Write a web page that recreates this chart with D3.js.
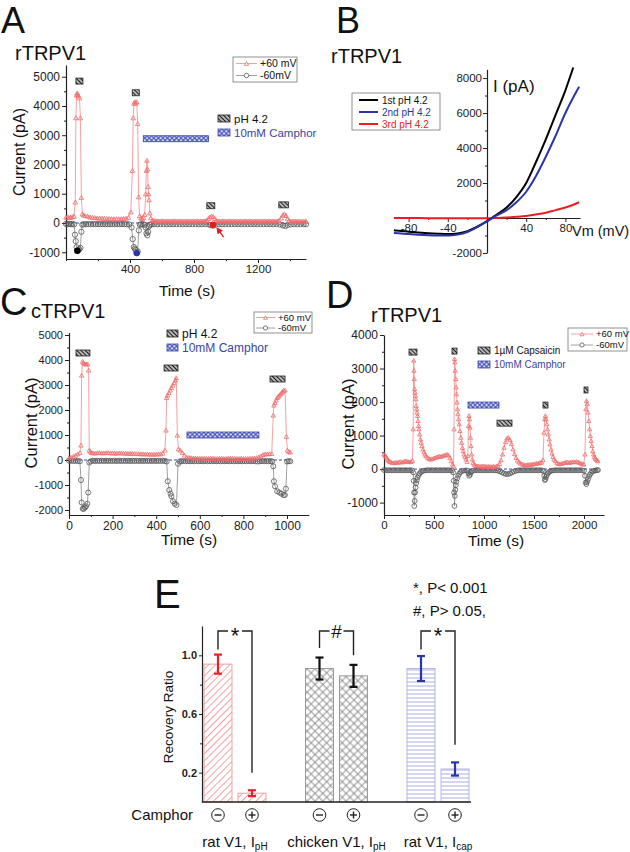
<!DOCTYPE html>
<html><head><meta charset="utf-8">
<script src="https://cdn.jsdelivr.net/npm/d3@7"></script>
<style>body{margin:0;background:#fff}svg{display:block}</style>
</head><body>
<svg id="fig" width="630" height="852"></svg>
<script>
const FONT='"Liberation Sans", Arial, Helvetica, sans-serif';

// ---------------- Panel A data (time s, current pA) ----------------
const aPos=[[0,200],[10,215],[20,190],[30,205],[40,220],[50,240],[58,720],[62,3600],[66,4380],[70,4450],[74,4400],[78,4350],[84,4280],[90,3600],[96,880],[102,320],[110,280],[120,260],[135,240],[150,210],[165,200],[180,190],[195,180],[210,175],[225,170],[240,165],[255,160],[270,160],[285,155],[300,150],[315,150],[330,150],[345,155],[360,160],[375,170],[390,200],[405,380],[415,1800],[420,3600],[425,4100],[430,4150],[436,4100],[442,4150],[448,3400],[454,900],[460,250],[468,180],[476,160],[484,200],[492,300],[498,1000],[502,1800],[506,2150],[510,1850],[513,1250],[516,1000],[519,800],[524,350],[530,180],[540,100],[550,90],[560,80],[570,80],[580,75],[590,70],[600,80],[610,75],[620,70],[630,75],[640,75],[650,70],[660,70],[670,75],[680,80],[690,70],[700,70],[710,75],[720,75],[730,70],[740,70],[750,75],[760,75],[770,70],[780,70],[790,75],[800,70],[810,70],[820,75],[830,70],[840,70],[850,75],[860,75],[870,80],[880,90],[890,160],[900,210],[910,240],[920,220],[930,160],[940,90],[950,75],[960,70],[970,70],[980,75],[990,75],[1000,70],[1010,70],[1020,75],[1030,75],[1040,70],[1050,70],[1060,75],[1070,70],[1080,70],[1090,75],[1100,70],[1110,70],[1120,75],[1130,70],[1140,70],[1150,75],[1160,70],[1170,70],[1180,75],[1190,70],[1200,70],[1210,75],[1220,70],[1230,70],[1240,75],[1250,70],[1260,70],[1270,75],[1280,70],[1290,70],[1300,75],[1310,70],[1320,75],[1330,90],[1345,180],[1355,280],[1365,320],[1375,260],[1385,150],[1395,90],[1405,70],[1415,70],[1425,65],[1435,70],[1445,65],[1455,70],[1465,60],[1475,65],[1485,60],[1495,60],[1500,60]];
const aNeg=[[0,-30],[10,-40],[20,-30],[30,-40],[40,-30],[50,-50],[56,-400],[61,-620],[66,-830],[71,-950],[77,-930],[83,-900],[90,-850],[96,-300],[102,-60],[110,-40],[125,-40],[140,-35],[155,-40],[170,-35],[185,-40],[200,-35],[215,-40],[230,-35],[245,-40],[260,-35],[275,-40],[290,-35],[305,-40],[320,-35],[335,-40],[350,-35],[365,-40],[380,-40],[395,-50],[410,-150],[417,-550],[424,-820],[430,-880],[436,-920],[442,-1030],[448,-980],[455,-250],[462,-60],[470,-40],[480,-40],[490,-60],[498,-150],[503,-350],[508,-420],[513,-300],[518,-120],[525,-60],[535,-45],[550,-40],[570,-40],[590,-40],[610,-40],[630,-40],[650,-40],[670,-40],[690,-40],[710,-40],[730,-40],[750,-40],[770,-40],[790,-40],[810,-40],[830,-40],[850,-40],[870,-40],[890,-50],[905,-70],[918,-90],[935,-60],[955,-40],[975,-40],[995,-40],[1015,-40],[1035,-40],[1055,-40],[1075,-40],[1095,-40],[1115,-40],[1135,-40],[1155,-40],[1175,-40],[1195,-40],[1215,-40],[1235,-40],[1255,-40],[1275,-40],[1295,-40],[1315,-40],[1335,-50],[1355,-80],[1370,-100],[1385,-70],[1405,-45],[1425,-40],[1445,-40],[1465,-40],[1485,-40],[1500,-40]];
const aMarked=[[71,-950],[442,-1030],[918,-60]];
const aMarkedColors=['#000','#2a35a8','#e5191e'];
const aPh=[[62,106,4850],[414,458,4450],[880,930,590],[1330,1390,620]];
const aCam=[[483,890,2880]];
const aYTicks=[-1000,0,1000,2000,3000,4000,5000];
const aYMinor=[-500,500,1500,2500,3500,4500];
const aXTicks=[400,800,1200];
const aXMinor=[0,200,600,1000,1400];

// ---------------- Panel B data (Vm mV, I pA) ----------------
const b1st=[[-95,-700],[-90,-730],[-80,-780],[-70,-830],[-60,-870],[-50,-900],[-40,-920],[-30,-880],[-20,-750],[-10,-500],[0,-180],[5,0],[10,200],[20,600],[30,1200],[40,2000],[50,3200],[60,4500],[70,5900],[80,7300],[88,8600]];
const b2nd=[[-95,-850],[-90,-870],[-80,-920],[-70,-960],[-60,-990],[-50,-1000],[-40,-1000],[-30,-950],[-20,-800],[-10,-520],[0,-200],[5,-20],[10,150],[20,450],[30,900],[40,1500],[50,2400],[60,3500],[70,4700],[80,6000],[90,7100],[94,7500]];
const b3rd=[[-95,0],[-80,0],[-60,-10],[-40,-10],[-20,-20],[0,-20],[10,0],[20,30],[30,70],[40,120],[50,200],[60,300],[70,450],[80,600],[90,800],[94,900]];
const bNames=['1st pH 4.2','2nd pH 4.2','3rd pH 4.2'];
const bColors=['#000','#2a35a8','#f01b22'];
const bYTicks=[-2000,2000,4000,6000,8000];
const bYMinor=[-1000,1000,3000,5000,7000];
const bXTicks=[-80,-40,40,80];
const bXMinor=[-60,-20,20,60];

// ---------------- Panel C data ----------------
const cPos=[[0,100],[10,120],[20,150],[30,200],[40,250],[50,300],[55,600],[58,3400],[62,3950],[67,3900],[73,3850],[79,3850],[85,3850],[90,3600],[93,400],[98,350],[104,300],[110,290],[120,280],[130,300],[140,300],[150,290],[160,290],[170,300],[180,300],[190,290],[200,290],[210,280],[220,280],[230,290],[240,290],[250,280],[260,280],[270,270],[280,270],[290,270],[300,270],[310,260],[320,260],[330,250],[340,250],[350,250],[360,250],[370,240],[380,240],[390,240],[400,240],[410,250],[420,250],[430,280],[440,400],[445,1200],[448,2500],[452,2600],[458,2700],[464,2800],[470,2900],[476,3000],[482,3100],[488,3200],[492,3300],[497,1000],[502,450],[510,400],[520,300],[530,200],[540,120],[550,110],[560,100],[570,90],[580,90],[590,80],[600,80],[610,80],[620,80],[630,70],[640,70],[650,80],[660,80],[670,70],[680,70],[690,80],[700,80],[710,70],[720,70],[730,80],[740,80],[750,70],[760,70],[770,70],[780,70],[790,80],[800,70],[810,70],[820,70],[830,80],[840,80],[850,90],[860,100],[870,130],[880,170],[890,220],[900,250],[910,250],[920,260],[930,260],[937,1800],[940,2200],[945,2300],[950,2400],[955,2500],[960,2550],[965,2600],[970,2650],[975,2700],[980,2750],[985,2800],[991,2800],[997,950],[1002,400],[1008,350],[1015,320]];
const cNeg=[[0,-30],[10,-30],[20,-40],[30,-30],[40,-40],[50,-50],[55,-800],[58,-1700],[63,-1950],[68,-1950],[73,-1900],[78,-1850],[84,-1750],[88,-1300],[93,-100],[100,-50],[110,-30],[120,-40],[130,-30],[140,-40],[150,-30],[160,-40],[170,-30],[180,-40],[190,-30],[200,-40],[210,-30],[220,-40],[230,-30],[240,-40],[250,-30],[260,-40],[270,-30],[280,-40],[290,-30],[300,-40],[310,-30],[320,-40],[330,-30],[340,-40],[350,-30],[360,-40],[370,-30],[380,-40],[390,-30],[400,-40],[410,-30],[420,-40],[430,-30],[440,-40],[448,-60],[453,-850],[460,-1200],[466,-1350],[470,-1450],[477,-1650],[485,-1750],[493,-1800],[500,-150],[508,-60],[515,-50],[525,-40],[535,-50],[545,-40],[555,-50],[565,-40],[575,-50],[585,-40],[595,-50],[605,-40],[615,-50],[625,-40],[635,-50],[645,-40],[655,-50],[665,-40],[675,-50],[685,-40],[695,-50],[705,-40],[715,-50],[725,-40],[735,-50],[745,-40],[755,-50],[765,-40],[775,-50],[785,-40],[795,-50],[805,-40],[815,-50],[825,-40],[835,-50],[845,-40],[855,-50],[865,-60],[875,-50],[885,-40],[895,-50],[905,-40],[915,-50],[925,-40],[932,-60],[937,-250],[940,-850],[945,-1050],[955,-1250],[965,-1300],[975,-1350],[985,-1400],[990,-1400],[995,-1150],[1000,-60],[1008,-50],[1015,-50]];
const cPh=[[32,96,4280],[436,500,3680],[922,991,3240]];
const cCam=[[541,871,1000]];
const cYTicks=[-2000,-1000,0,1000,2000,3000,4000,5000];
const cYMinor=[-1500,-500,500,1500,2500,3500,4500];
const cXTicks=[0,200,400,600,800,1000];
const cXMinor=[100,300,500,700,900];

// ---------------- Panel D data ----------------
const dPos=[[0,450],[10,420],[20,380],[30,330],[40,280],[50,250],[60,230],[75,210],[90,190],[105,200],[120,210],[135,200],[150,220],[165,230],[180,210],[195,230],[210,250],[225,240],[240,230],[255,220],[270,230],[285,260],[292,1200],[297,3250],[300,2950],[303,2700],[306,2400],[310,2300],[314,2200],[318,2100],[322,1900],[326,1800],[330,1700],[335,1600],[340,1450],[345,1300],[350,1200],[357,1050],[365,900],[372,800],[380,700],[390,600],[400,520],[410,450],[420,400],[435,350],[450,320],[465,300],[480,310],[495,330],[510,350],[525,360],[540,380],[555,400],[570,380],[585,400],[600,420],[615,430],[630,450],[645,420],[660,350],[672,250],[685,150],[695,100],[700,1200],[705,3300],[709,3200],[713,2950],[717,2700],[721,2450],[725,2250],[730,2000],[735,1800],[740,1650],[746,1500],[752,1350],[760,1150],[768,950],[776,800],[784,650],[792,550],[800,450],[810,380],[820,300],[830,230],[838,400],[845,1300],[850,1600],[855,1500],[860,1250],[865,950],[870,700],[876,450],[884,300],[892,200],[900,150],[915,120],[930,100],[945,100],[960,90],[975,90],[990,100],[1005,90],[1020,90],[1035,80],[1050,90],[1065,80],[1080,80],[1095,90],[1110,80],[1125,90],[1140,110],[1155,170],[1170,280],[1185,450],[1200,650],[1215,820],[1230,930],[1245,950],[1260,880],[1275,760],[1290,600],[1305,460],[1320,350],[1335,270],[1350,220],[1365,180],[1380,160],[1395,140],[1410,130],[1425,130],[1440,140],[1455,140],[1470,150],[1485,150],[1500,160],[1515,170],[1530,180],[1545,180],[1560,200],[1575,210],[1590,280],[1600,1100],[1607,1500],[1614,1600],[1621,1500],[1628,1350],[1636,1200],[1644,1050],[1652,900],[1660,750],[1670,600],[1680,480],[1690,380],[1700,300],[1715,250],[1730,200],[1745,170],[1760,160],[1775,170],[1790,190],[1805,200],[1820,210],[1835,220],[1850,200],[1865,210],[1880,220],[1895,230],[1910,220],[1925,230],[1940,220],[1955,200],[1970,180],[1985,160],[1998,150],[2010,450],[2018,1800],[2025,2050],[2032,1950],[2040,1700],[2048,1450],[2056,1200],[2064,1000],[2072,850],[2080,700],[2088,550],[2096,450],[2104,380],[2112,330],[2120,300],[2130,270],[2140,250]];
const dNeg=[[0,-30],[20,-30],[40,-40],[60,-30],[80,-40],[100,-30],[120,-40],[140,-30],[160,-40],[180,-30],[200,-40],[220,-30],[240,-40],[260,-30],[280,-40],[292,-100],[296,-350],[300,-700],[303,-1100],[307,-950],[311,-700],[316,-550],[322,-420],[328,-330],[335,-250],[345,-180],[355,-130],[370,-90],[385,-60],[400,-45],[420,-40],[440,-30],[460,-40],[480,-30],[500,-40],[520,-30],[540,-40],[560,-30],[580,-40],[600,-30],[620,-40],[640,-30],[660,-40],[680,-40],[692,-100],[697,-350],[701,-700],[705,-1100],[709,-800],[713,-620],[718,-480],[724,-380],[732,-280],[742,-200],[752,-140],[765,-90],[780,-60],[800,-45],[820,-40],[835,-50],[845,-120],[852,-200],[860,-170],[868,-100],[880,-60],[900,-40],[920,-30],[940,-40],[960,-30],[980,-40],[1000,-30],[1020,-40],[1040,-30],[1060,-40],[1080,-30],[1100,-40],[1120,-40],[1140,-50],[1160,-70],[1180,-100],[1200,-130],[1220,-150],[1240,-150],[1260,-130],[1280,-100],[1300,-70],[1320,-50],[1340,-40],[1360,-30],[1380,-40],[1400,-30],[1420,-40],[1440,-30],[1460,-40],[1480,-30],[1500,-40],[1520,-30],[1540,-40],[1560,-30],[1580,-40],[1595,-60],[1602,-200],[1608,-330],[1614,-300],[1620,-240],[1628,-180],[1638,-130],[1650,-90],[1665,-60],[1680,-45],[1700,-40],[1720,-30],[1740,-40],[1760,-30],[1780,-40],[1800,-30],[1820,-40],[1840,-30],[1860,-40],[1880,-30],[1900,-40],[1920,-30],[1940,-40],[1960,-30],[1980,-40],[2000,-50],[2010,-200],[2017,-400],[2024,-450],[2031,-380],[2040,-300],[2050,-220],[2060,-160],[2072,-110],[2085,-70],[2100,-50],[2115,-40],[2130,-35],[2140,-30]];
const dCap=[[250,330,3490],[680,730,3520],[1130,1280,1370],[1590,1640,1910],[2000,2040,2360]];
const dCam=[[840,1150,1910]];
const dYTicks=[-1000,0,1000,2000,3000,4000];
const dYMinor=[-500,500,1500,2500,3500];
const dXTicks=[0,500,1000,1500,2000];
const dXMinor=[250,750,1250,1750];

// ---------------- Panel E data ----------------
const eGroupNames=['rat V1, I','chicken V1, I','rat V1, I'];
const eGroupSubs=['pH','pH','cap'];
const eCond=['-','+'];
const eMeans=[[0.94,0.06],[0.91,0.86],[0.91,0.225]];
const eErrs=[[0.065,0.02],[0.075,0.075],[0.085,0.045]];
const eSig=['*','#','*'];
const eBracketLevel=[1.166,1.166,1.166];
const eBracketLeftEnd=[1.04,1.05,1.04];
const eBracketRightEnd=[0.2,1.0,0.39];
const eYTicks=[0.2,0.6,1.0];
const eYMinor=[0.4,0.8];

// ================= drawing =================
const svg=d3.select('#fig').attr('font-family',FONT);
const defs=svg.append('defs');
function pattern(id,size,angle,bg,color,width,dirs){
  const p=defs.append('pattern').attr('id',id).attr('patternUnits','userSpaceOnUse')
    .attr('width',size).attr('height',size).attr('patternTransform',`rotate(${angle})`);
  p.append('rect').attr('width',size).attr('height',size).attr('fill',bg);
  if(dirs.includes('v')) p.append('line').attr('x1',size/2).attr('x2',size/2).attr('y1',0).attr('y2',size).attr('stroke',color).attr('stroke-width',width);
  if(dirs.includes('h')) p.append('line').attr('y1',size/2).attr('y2',size/2).attr('x1',0).attr('x2',size).attr('stroke',color).attr('stroke-width',width);
}
pattern('phPat',3,-45,'#d4d4d4','#1a1a1a',1.3,'v');
pattern('camPat',3.2,45,'#e0e0f4','#3545b0',1,'vh');
pattern('eRed',5,45,'#fff','#f29a9a',0.9,'v');
pattern('eCross',5.5,45,'#fff','#7c7c7c',0.8,'vh');
pattern('eBlue',4,0,'#fff','#a9addf',1,'h');

function txt(x,y,s,fs,o={}){
  const t=svg.append('text').attr('x',x).attr('y',y).attr('font-size',fs).attr('fill',o.fill||'#111').text(s);
  if(o.anchor) t.attr('text-anchor',o.anchor);
  if(o.weight) t.attr('font-weight',o.weight);
  return t;
}
function vtxt(x,y,s,fs){
  return svg.append('text').attr('transform',`translate(${x},${y}) rotate(-90)`).attr('text-anchor','middle').attr('font-size',fs).attr('fill','#111').text(s);
}
const fmt=d=>String(d);
function styleAxis(g,fs){
  g.attr('font-family',FONT);
  g.select('.domain').attr('stroke','#222').attr('stroke-width',1.2);
  g.selectAll('.tick line').attr('stroke','#222').attr('stroke-width',1);
  g.selectAll('.tick text').attr('font-size',fs).attr('fill','#222');
}
function axesBox(x,y,o){
  const x0=x.range()[0], y0=y.range()[0];
  const gy=svg.append('g').attr('transform',`translate(${x0},0)`)
    .call(d3.axisLeft(y).tickValues(o.yt).tickSize(4).tickSizeOuter(0).tickPadding(2).tickFormat(fmt));
  styleAxis(gy,o.yfs);
  svg.append('g').attr('transform',`translate(${x0},0)`)
    .call(d3.axisLeft(y).tickValues(o.ym).tickSize(2).tickFormat(''))
    .call(g=>{g.select('.domain').remove();g.selectAll('line').attr('stroke','#222');});
  const gx=svg.append('g').attr('transform',`translate(0,${y0})`)
    .call(d3.axisBottom(x).tickValues(o.xt).tickSize(4).tickSizeOuter(0).tickPadding(2).tickFormat(fmt));
  styleAxis(gx,o.xfs);
  svg.append('g').attr('transform',`translate(0,${y0})`)
    .call(d3.axisBottom(x).tickValues(o.xm).tickSize(2).tickFormat(''))
    .call(g=>{g.select('.domain').remove();g.selectAll('line').attr('stroke','#222');});
}
const RED='#ef6b6b', GRAY='#555';
function traces(x,y,pos,neg,triSize,circSize){
  const ln=d3.line().x(d=>x(d[0])).y(d=>y(d[1]));
  svg.append('line').attr('x1',x.range()[0]).attr('x2',x(d3.max(pos,d=>d[0])))
    .attr('y1',y(0)).attr('y2',y(0)).attr('stroke','#3344cc').attr('stroke-width',1).attr('stroke-dasharray','3,2');
  svg.append('path').datum(neg).attr('d',ln).attr('fill','none').attr('stroke','#888').attr('stroke-width',0.8);
  svg.append('g').selectAll('path').data(neg).join('path')
    .attr('transform',d=>`translate(${x(d[0])},${y(d[1])})`)
    .attr('d',d3.symbol(d3.symbolCircle,circSize)()).attr('fill','none').attr('stroke',GRAY).attr('stroke-width',0.8);
  svg.append('path').datum(pos).attr('d',ln).attr('fill','none').attr('stroke','#f28a8a').attr('stroke-width',0.8);
  svg.append('g').selectAll('path').data(pos).join('path')
    .attr('transform',d=>`translate(${x(d[0])},${y(d[1])+0.8})`)
    .attr('d',d3.symbol(d3.symbolTriangle2,triSize)()).attr('fill','none').attr('stroke',RED).attr('stroke-width',0.8);
}
function bars(x,y,list,fill,stroke,h){
  svg.append('g').selectAll('rect').data(list).join('rect')
    .attr('x',d=>x(d[0])).attr('width',d=>x(d[1])-x(d[0]))
    .attr('y',d=>y(d[2])-h/2).attr('height',h)
    .attr('fill',fill).attr('stroke',stroke).attr('stroke-width',0.8);
}
function traceLegend(bx,by,bw,bh,rows,lx0,lx1,tx,fs,triSize,circSize){
  svg.append('rect').attr('x',bx).attr('y',by).attr('width',bw).attr('height',bh).attr('fill','#fff').attr('stroke','#777').attr('stroke-width',0.8);
  const items=[{t:'+60 mV',c:RED,s:d3.symbolTriangle2,z:triSize},{t:'-60mV',c:GRAY,s:d3.symbolCircle,z:circSize}];
  items.forEach((it,i)=>{
    const yy=rows[i];
    svg.append('line').attr('x1',lx0).attr('x2',lx1).attr('y1',yy).attr('y2',yy).attr('stroke',i?'#888':'#f28a8a').attr('stroke-width',0.8);
    svg.append('path').attr('transform',`translate(${(lx0+lx1)/2},${yy+(i?0:0.6)})`).attr('d',d3.symbol(it.s,it.z)()).attr('fill','#fff').attr('stroke',it.c).attr('stroke-width',0.8);
    txt(tx,yy+fs*0.36,it.t,fs,{fill:'#111'});
  });
}
function treatLegend(x,y1,y2,w,h,label1,fs){
  svg.append('rect').attr('x',x).attr('y',y1).attr('width',w).attr('height',h).attr('fill','url(#phPat)').attr('stroke','#222').attr('stroke-width',0.8);
  svg.append('rect').attr('x',x).attr('y',y2).attr('width',w).attr('height',h).attr('fill','url(#camPat)').attr('stroke','#3545b0').attr('stroke-width',0.8);
  txt(x+w+4,y1+h/2+fs*0.36,label1,fs,{fill:'#111'});
  txt(x+w+4,y2+h/2+fs*0.36,'10mM Camphor',fs,{fill:'#3a44a8'});
}

// ---------- Panel A ----------
const xA=d3.scaleLinear().domain([0,1500]).range([66,306]);
const yA=d3.scaleLinear().domain([-1230,5400]).range([259,65]);
txt(1,33,'A',36);
txt(15,60,'rTRPV1',20);
axesBox(xA,yA,{yt:aYTicks,ym:aYMinor,xt:aXTicks,xm:aXMinor,yfs:12,xfs:11.5});
traces(xA,yA,aPos,aNeg,15,22);
svg.append('g').selectAll('circle').data(aMarked).join('circle')
  .attr('cx',d=>xA(d[0])).attr('cy',d=>yA(d[1])).attr('r',3.2).attr('fill',(d,i)=>aMarkedColors[i]);
svg.append('defs').append('marker').attr('id','arrowR').attr('viewBox','0 0 10 10').attr('refX',8).attr('refY',5)
  .attr('markerWidth',5).attr('markerHeight',5).attr('orient','auto')
  .append('path').attr('d','M0,0L10,5L0,10z').attr('fill','#e5191e');
svg.append('line').attr('x1',xA(985)).attr('y1',yA(-480)).attr('x2',xA(945)).attr('y2',yA(-180))
  .attr('stroke','#e5191e').attr('stroke-width',1.3).attr('marker-end','url(#arrowR)');
bars(xA,yA,aPh,'url(#phPat)','#222',6);
bars(xA,yA,aCam,'url(#camPat)','#3545b0',6);
traceLegend(233,57,64,25,[63.5,75.5],236,257,260,10.5,13,16);
treatLegend(218,115,129,12,7,'pH 4.2',11.5);
vtxt(25,152,'Current (pA)',16);
txt(187,296,'Time (s)',15.5,{anchor:'middle'});

// ---------- Panel B ----------
const xB=d3.scaleLinear().domain([-95,95]).range([393.9,580.1]);
const yB=d3.scaleLinear().domain([-2000,8500]).range([253,69.3]);
txt(336,33,'B',36);
txt(331,63,'rTRPV1',20);
{
  const gx=svg.append('g').attr('transform',`translate(0,${yB(0)})`)
    .call(d3.axisBottom(xB).tickValues(bXTicks).tickSize(4).tickSizeOuter(0).tickPadding(2).tickFormat(fmt));
  styleAxis(gx,11.5);
  svg.append('g').attr('transform',`translate(0,${yB(0)})`)
    .call(d3.axisBottom(xB).tickValues(bXMinor).tickSize(2).tickFormat(''))
    .call(g=>{g.select('.domain').remove();g.selectAll('line').attr('stroke','#222');});
  const gy=svg.append('g').attr('transform',`translate(${xB(0)},0)`)
    .call(d3.axisLeft(yB).tickValues(bYTicks).tickSize(4).tickSizeOuter(0).tickPadding(1).tickFormat(fmt));
  styleAxis(gy,11.5);
  svg.append('g').attr('transform',`translate(${xB(0)},0)`)
    .call(d3.axisLeft(yB).tickValues(bYMinor).tickSize(2).tickFormat(''))
    .call(g=>{g.select('.domain').remove();g.selectAll('line').attr('stroke','#222');});
  const lnB=d3.line().curve(d3.curveMonotoneX).x(d=>xB(d[0])).y(d=>yB(d[1]));
  [b3rd,b1st,b2nd].forEach((s,i)=>{
    const c=[bColors[2],bColors[0],bColors[1]][i];
    svg.append('path').datum(s).attr('d',lnB).attr('fill','none').attr('stroke',c).attr('stroke-width',2);
  });
  svg.append('rect').attr('x',352).attr('y',93).attr('width',88).attr('height',37).attr('fill','#fff').attr('stroke','#777').attr('stroke-width',0.8);
  bNames.forEach((n,i)=>{
    const yy=100+i*12;
    svg.append('line').attr('x1',359).attr('x2',378).attr('y1',yy).attr('y2',yy).attr('stroke',bColors[i]).attr('stroke-width',2);
    txt(382,yy+3.6,n,10,{fill:i?bColors[i]:'#111'});
  });
  txt(493,92,'I (pA)',17);
  txt(572,236,'Vm (mV)',14.5);
}

// ---------- Panel C ----------
const xC=d3.scaleLinear().domain([0,1100]).range([69,308.8]);
const yC=d3.scaleLinear().domain([-2200,5100]).range([515,332.5]);
txt(0,315,'C',38);
txt(31,318,'cTRPV1',20);
axesBox(xC,yC,{yt:cYTicks,ym:cYMinor,xt:cXTicks,xm:cXMinor,yfs:11,xfs:12});
traces(xC,yC,cPos,cNeg,14,20);
bars(xC,yC,cPh,'url(#phPat)','#222',6);
bars(xC,yC,cCam,'url(#camPat)','#3545b0',6);
traceLegend(254,312,58,21,[317.5,328],256,275,278,9.5,11,14);
treatLegend(167,330,344,11,7,'pH 4.2',12);
vtxt(37,423,'Current (pA)',16.5);
txt(189,545,'Time (s)',15.5,{anchor:'middle'});

// ---------- Panel D ----------
const xD=d3.scaleLinear().domain([0,2200]).range([384,604]);
const yD=d3.scaleLinear().domain([-1370,4000]).range([515,335]);
txt(326,308,'D',38);
txt(371,322,'rTRPV1',20);
axesBox(xD,yD,{yt:dYTicks,ym:dYMinor,xt:dXTicks,xm:dXMinor,yfs:12,xfs:11.5});
traces(xD,yD,dPos,dNeg,13,18);
bars(xD,yD,dCap,'url(#phPat)','#222',6);
bars(xD,yD,dCam,'url(#camPat)','#3545b0',6);
traceLegend(568,328,59,23,[334,345],571,593,596,9.5,11,14);
treatLegend(478,347,361,12,7,'1\u00b5M Capsaicin',10);
vtxt(354,424,'Current (pA)',16.5);
txt(496,546,'Time (s)',15.5,{anchor:'middle'});

// ---------- Panel E ----------
{
  const xE=d3.scalePoint().domain(d3.range(eGroupNames.length)).range([202,471]).padding(0.325);
  const xIn=d3.scalePoint().domain(eCond).range([-17,17]);
  const yE=d3.scaleLinear().domain([0,1.2]).range([802,626]);
  const bw=28;
  const fills=['url(#eRed)','url(#eCross)','url(#eBlue)'];
  const borders=['#f2a0a0','#9a9a9a','#b4b6e4'];
  const errC=['#e8202a','#111','#2a35a8'];
  txt(154,608,'E',40);
  txt(413,593,'*, P< 0.001',15);
  txt(413,616,'#, P> 0.05,',15);
  eMeans.forEach((pair,g)=>{
    pair.forEach((m,k)=>{
      const cx=xE(g)+xIn(eCond[k]);
      svg.append('rect').attr('x',cx-bw/2).attr('width',bw).attr('y',yE(m)).attr('height',yE(0)-yE(m))
        .attr('fill',fills[g]).attr('stroke',borders[g]).attr('stroke-width',1);
      const e=eErrs[g][k];
      const eg=svg.append('g').attr('stroke',errC[g]).attr('stroke-width',2.2);
      eg.append('line').attr('x1',cx).attr('x2',cx).attr('y1',yE(m-e)).attr('y2',yE(m+e));
      eg.append('line').attr('x1',cx-4).attr('x2',cx+4).attr('y1',yE(m-e)).attr('y2',yE(m-e));
      eg.append('line').attr('x1',cx-4).attr('x2',cx+4).attr('y1',yE(m+e)).attr('y2',yE(m+e));
      const sy=815;
      svg.append('circle').attr('cx',cx).attr('cy',sy).attr('r',6.3).attr('fill','#fff').attr('stroke','#222').attr('stroke-width',1);
      svg.append('line').attr('x1',cx-3.5).attr('x2',cx+3.5).attr('y1',sy).attr('y2',sy).attr('stroke','#222').attr('stroke-width',1.4);
      if(eCond[k]==='+') svg.append('line').attr('x1',cx).attr('x2',cx).attr('y1',sy-3.5).attr('y2',sy+3.5).attr('stroke','#222').attr('stroke-width',1.4);
    });
    const xl=xE(g)+xIn('-'), xr=xE(g)+xIn('+'), mid=(xl+xr)/2, yt=yE(eBracketLevel[g]);
    const br=svg.append('g').attr('stroke','#222').attr('stroke-width',1.4).attr('fill','none');
    br.append('path').attr('d',`M${xl},${yE(eBracketLeftEnd[g])}V${yt}H${mid-7}`);
    br.append('path').attr('d',`M${mid+7},${yt}H${xr}V${yE(eBracketRightEnd[g])}`);
    if(eSig[g]==='*') txt(mid,yt+12.5,'*',22,{anchor:'middle'});
    else txt(mid,yt+7,eSig[g],19,{anchor:'middle'});
    const t=svg.append('text').attr('x',xE(g)).attr('y',847).attr('text-anchor','middle').attr('font-size',15).attr('fill','#111');
    t.append('tspan').text(eGroupNames[g]);
    t.append('tspan').attr('font-size',10).attr('dy',3).text(eGroupSubs[g]);
  });
  const gy=svg.append('g').attr('transform','translate(202,0)')
    .call(d3.axisLeft(yE).tickValues(eYTicks).tickSize(3).tickSizeOuter(0).tickPadding(2).tickFormat(d3.format('.1f')));
  styleAxis(gy,11);
  gy.selectAll('.tick text').attr('font-weight','bold');
  svg.append('g').attr('transform','translate(202,0)')
    .call(d3.axisLeft(yE).tickValues(eYMinor).tickSize(2).tickFormat(''))
    .call(g=>{g.select('.domain').remove();g.selectAll('line').attr('stroke','#222');});
  svg.append('line').attr('x1',202).attr('x2',471).attr('y1',yE(0)).attr('y2',yE(0)).attr('stroke','#222').attr('stroke-width',1.6);
  vtxt(173,717,'Recovery Ratio',13.5);
  txt(193,820,'Camphor',15,{anchor:'end'});
}
</script>
</body></html>
